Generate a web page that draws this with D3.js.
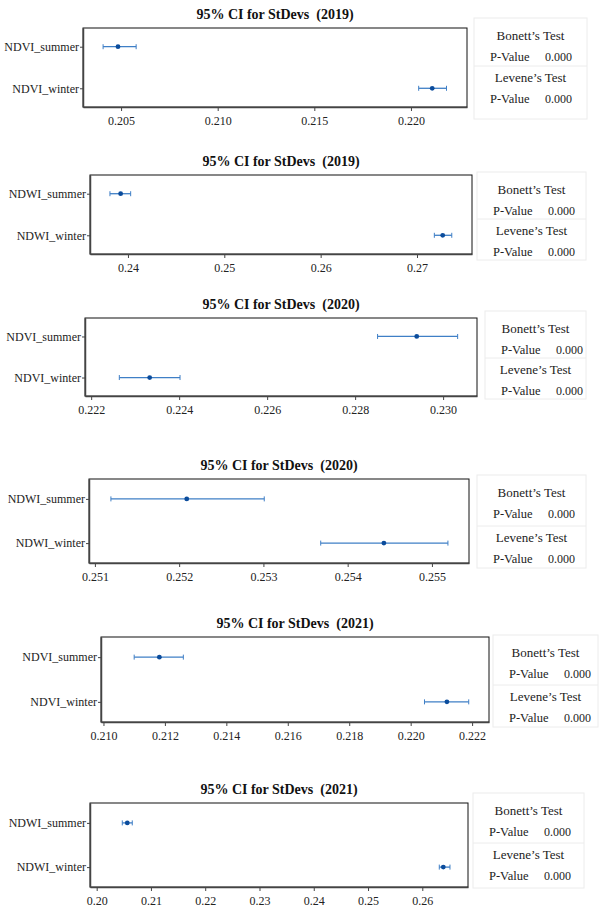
<!DOCTYPE html>
<html lang="en">
<head>
<meta charset="UTF-8">
<title>95% CI for StDevs</title>
<script src="https://d3js.org/d3.v7.min.js"></script>
<style>
  body { margin: 0; background: #fff; }
  svg, svg text { font-family: "Liberation Serif", "Times New Roman", "DejaVu Serif", serif !important; }
</style>
</head>
<body>
<div id="chart"></div>
<script>
// chart values, one entry per panel (top to bottom)
var titles = ["95% CI for StDevs  (2019)", "95% CI for StDevs  (2019)",
              "95% CI for StDevs  (2020)", "95% CI for StDevs  (2020)",
              "95% CI for StDevs  (2021)", "95% CI for StDevs  (2021)"]
var categories = [["NDVI_summer", "NDVI_winter"], ["NDWI_summer", "NDWI_winter"],
                  ["NDVI_summer", "NDVI_winter"], ["NDWI_summer", "NDWI_winter"],
                  ["NDVI_summer", "NDVI_winter"], ["NDWI_summer", "NDWI_winter"]]
var estimates = [[0.20484, 0.22110], [0.23924, 0.27267], [0.22940, 0.22333],
                 [0.25209, 0.25443], [0.21182, 0.22118], [0.20564, 0.26387]]
var lowerCI = [[0.20407, 0.22040], [0.23813, 0.27180], [0.22851, 0.22264],
               [0.25119, 0.25368], [0.21100, 0.22045], [0.20472, 0.26313]]
var upperCI = [[0.20578, 0.22184], [0.24028, 0.27361], [0.23033, 0.22402],
               [0.25301, 0.25519], [0.21260, 0.22189], [0.20656, 0.26510]]
var xDomains = [[0.20303, 0.22290], [0.23606, 0.27571], [0.22186, 0.23077],
                [0.25093, 0.25544], [0.20992, 0.22255], [0.19877, 0.26842]]
var tickValues = [[0.205, 0.210, 0.215, 0.220], [0.24, 0.25, 0.26, 0.27],
                  [0.222, 0.224, 0.226, 0.228, 0.230], [0.251, 0.252, 0.253, 0.254, 0.255],
                  [0.210, 0.212, 0.214, 0.216, 0.218, 0.220, 0.222],
                  [0.20, 0.21, 0.22, 0.23, 0.24, 0.25, 0.26]]
var tickFormats = [".3f", ".2f", ".3f", ".3f", ".3f", ".2f"]
var testNames = ["Bonett\u2019s Test", "Levene\u2019s Test"]
var pValues = [[0.000, 0.000], [0.000, 0.000], [0.000, 0.000],
               [0.000, 0.000], [0.000, 0.000], [0.000, 0.000]]

// where each panel sits on the page: plot box and legend box
var layout = [
  {box: [83, 28, 467, 107], leg: [474, 18, 587, 119], div: 66},
  {box: [90, 175, 472, 254], leg: [477, 172, 586, 260], div: 219},
  {box: [85, 318, 477, 396], leg: [485, 311, 586, 399], div: 358},
  {box: [89, 479, 469, 563], leg: [477, 475, 586, 568], div: 526},
  {box: [101, 637, 489, 722], leg: [493, 635, 598, 727], div: 685},
  {box: [90, 803, 468, 887], leg: [473, 793, 584, 888], div: 843}
]

var lineColor = "#3f7fc6"
var dotColor = "#0b4c9c"

var svg = d3.select("#chart").append("svg")
    .attr("width", 599)
    .attr("height", 909)

layout.forEach(function(L, i) {
    var x0 = L.box[0], y0 = L.box[1], x1 = L.box[2], y1 = L.box[3]
    var g = svg.append("g")

    var x = d3.scaleLinear().domain(xDomains[i]).range([x0, x1])
    var y = d3.scalePoint().domain(categories[i]).range([y0, y1]).padding(0.45)

    // title
    g.append("text")
        .attr("x", (x0 + x1) / 2)
        .attr("y", y0 - 9)
        .attr("text-anchor", "middle")
        .attr("font-size", "14px")
        .attr("font-weight", "bold")
        .attr("fill", "#111")
        .style("white-space", "pre")
        .text(titles[i])

    // frame
    g.append("rect")
        .attr("x", x0).attr("y", y0)
        .attr("width", x1 - x0).attr("height", y1 - y0)
        .attr("fill", "none")
        .attr("stroke", "#111")
        .attr("stroke-width", 1)

    // axes
    var xAxis = d3.axisBottom(x)
        .tickValues(tickValues[i])
        .tickFormat(d3.format(tickFormats[i]))
        .tickSize(4)
        .tickSizeOuter(0)
    var ax = g.append("g")
        .attr("transform", "translate(0," + y1 + ")")
        .call(xAxis)
    ax.select(".domain").attr("stroke", "#444").attr("stroke-width", 1.5)
    ax.selectAll(".tick line").attr("stroke", "#444")
    ax.selectAll(".tick text")
        .attr("font-size", "12px")
        .attr("fill", "#222")
        .attr("dy", "0.95em")

    var yAxis = d3.axisLeft(y).tickSize(3).tickSizeOuter(0)
    var ay = g.append("g")
        .attr("transform", "translate(" + x0 + ",0)")
        .call(yAxis)
    ay.select(".domain").attr("stroke", "#444").attr("stroke-width", 1.5)
    ay.selectAll(".tick line").attr("stroke", "#444")
    ay.selectAll(".tick text")
        .attr("font-size", "12px")
        .attr("fill", "#222")
        .attr("x", -4)

    // intervals
    var rows = categories[i].map(function(c, k) {
        return {cat: c, est: estimates[i][k], lo: lowerCI[i][k], hi: upperCI[i][k]}
    })
    var ci = g.selectAll(".ci").data(rows).enter().append("g")
    ci.append("line")
        .attr("x1", function(d) { return x(d.lo) })
        .attr("x2", function(d) { return x(d.hi) })
        .attr("y1", function(d) { return y(d.cat) })
        .attr("y2", function(d) { return y(d.cat) })
        .attr("stroke", lineColor)
        .attr("stroke-width", 1.3)
    ci.selectAll(".cap")
        .data(function(d) { return [{v: d.lo, c: d.cat}, {v: d.hi, c: d.cat}] })
        .enter().append("line")
        .attr("x1", function(d) { return x(d.v) })
        .attr("x2", function(d) { return x(d.v) })
        .attr("y1", function(d) { return y(d.c) - 2.5 })
        .attr("y2", function(d) { return y(d.c) + 2.5 })
        .attr("stroke", lineColor)
        .attr("stroke-width", 1)
    ci.append("circle")
        .attr("cx", function(d) { return x(d.est) })
        .attr("cy", function(d) { return y(d.cat) })
        .attr("r", 2.4)
        .attr("fill", dotColor)

    // test results box
    var lx0 = L.leg[0], ly0 = L.leg[1], lx1 = L.leg[2], ly1 = L.leg[3]
    g.append("rect")
        .attr("x", lx0).attr("y", ly0)
        .attr("width", lx1 - lx0).attr("height", ly1 - ly0)
        .attr("fill", "none")
        .attr("stroke", "#ececec")
    g.append("line")
        .attr("x1", lx0).attr("x2", lx1)
        .attr("y1", L.div).attr("y2", L.div)
        .attr("stroke", "#ececec")

    // text offsets below the top of each half of the box
    var tops = [ly0, L.div]
    var offs = [[17.5, 39], [11.5, 33]]
    testNames.forEach(function(name, k) {
        var top = tops[k]
        g.append("text")
            .attr("x", (lx0 + lx1) / 2)
            .attr("y", top + offs[k][0])
            .attr("dy", "0.35em")
            .attr("text-anchor", "middle")
            .attr("font-size", "13px")
            .attr("fill", "#222")
            .text(name)
        g.append("text")
            .attr("x", lx0 + 16)
            .attr("y", top + offs[k][1])
            .attr("dy", "0.35em")
            .attr("font-size", "12.5px")
            .attr("fill", "#222")
            .text("P-Value")
        g.append("text")
            .attr("x", lx0 + 71)
            .attr("y", top + offs[k][1])
            .attr("dy", "0.35em")
            .attr("font-size", "12px")
            .attr("fill", "#222")
            .text(d3.format(".3f")(pValues[i][k]))
    })
})
</script>
</body>
</html>
